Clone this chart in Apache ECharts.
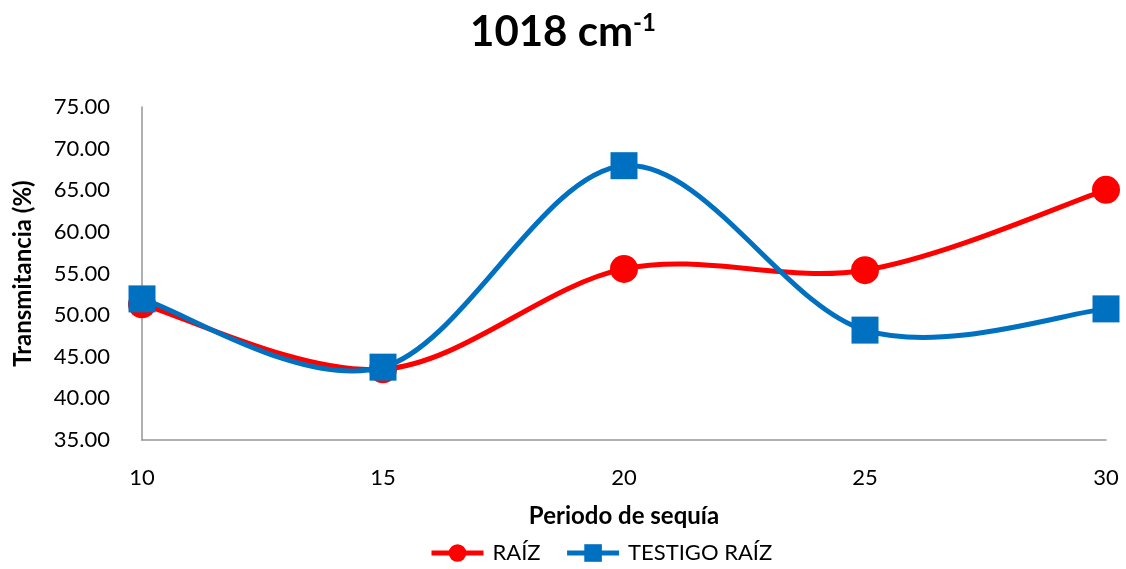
<!DOCTYPE html>
<html><head><meta charset="utf-8">
<script src="https://cdn.jsdelivr.net/npm/echarts@6/dist/echarts.min.js"></script>
<style>html,body{margin:0;padding:0;background:#fff}#c{width:1126px;height:569px}</style>
</head><body><div id="c"></div>
<script>
const periods = [10, 15, 20, 25, 30];
const raiz = [51.3, 43.5, 55.55, 55.4, 65.05];
const testigoRaiz = [51.95, 43.75, 67.95, 48.2, 50.75];
const seriesNames = ['RAÍZ', 'TESTIGO RAÍZ'];
const colors = ['#ff0000', '#0070c0'];
const font = 'Lato, "Open Sans", sans-serif';

// Smooth curve (Catmull-Rom style, like a spreadsheet "smoothed line"), through the axis scales
function curveSeries(values, color, z) {
  return {
    type: 'custom', name: 'curve-' + color, z: z, silent: true,
    data: periods.map((p, i) => [p, values[i]]),
    renderItem: function (params, api) {
      if (params.dataIndex !== 0) return null;
      const pts = periods.map((p, i) => api.coord([p, values[i]]));
      const n = pts.length;
      let d = 'M' + pts[0][0] + ' ' + pts[0][1];
      for (let i = 0; i < n - 1; i++) {
        const p0 = pts[Math.max(i - 1, 0)], p1 = pts[i], p2 = pts[i + 1], p3 = pts[Math.min(i + 2, n - 1)];
        const c1x = p1[0] + (p2[0] - p0[0]) / 6, c1y = p1[1] + (p2[1] - p0[1]) / 6;
        const c2x = p2[0] - (p3[0] - p1[0]) / 6, c2y = p2[1] - (p3[1] - p1[1]) / 6;
        d += ' C' + c1x + ' ' + c1y + ' ' + c2x + ' ' + c2y + ' ' + p2[0] + ' ' + p2[1];
      }
      return {type: 'path', shape: {pathData: d}, style: {fill: 'none', stroke: color, lineWidth: 5, lineCap: 'round', lineJoin: 'round'}};
    }
  };
}

const chart = echarts.init(document.getElementById('c'));
chart.setOption({
  animation: false,
  title: {
    text: '{b|1018 cm}{s|-1}',
    left: 'center', top: 6,
    textStyle: {
      rich: {
        b: {fontFamily: font, fontWeight: 'bold', fontSize: 42, color: '#000', verticalAlign: 'bottom'},
        s: {fontFamily: font, fontWeight: 'bold', fontSize: 24, color: '#000', verticalAlign: 'top', padding: [0,0,16,0]}
      }
    }
  },
  legend: {
    bottom: 0, left: 424,
    itemWidth: 52, itemHeight: 22, itemGap: 24,
    textStyle: {fontFamily: font, fontSize: 22, color: '#000', padding: [0, 0, 0, 4]},
    data: seriesNames.map((n, i) => ({name: n, lineStyle: {color: colors[i], width: 5, opacity: 1}}))
  },
  grid: {left: 142, right: 20, top: 107, bottom: 129},
  xAxis: {
    type: 'value', min: 10, max: 30, interval: 5,
    name: 'Periodo de sequía', nameLocation: 'middle', nameGap: 64,
    nameTextStyle: {fontFamily: font, fontWeight: 'bold', fontSize: 24, color: '#000'},
    axisLine: {lineStyle: {color: '#969696', width: 1.5}},
    axisTick: {show: false},
    splitLine: {show: false},
    axisLabel: {fontFamily: font, fontSize: 22, color: '#000', margin: 27}
  },
  yAxis: {
    type: 'value', min: 35, max: 75, interval: 5,
    name: 'Transmitancia (%)', nameLocation: 'middle', nameGap: 107,
    nameTextStyle: {fontFamily: font, fontWeight: 'bold', fontSize: 24, color: '#000'},
    axisLine: {show: true, lineStyle: {color: '#969696', width: 1.5}},
    axisTick: {show: false},
    splitLine: {show: false},
    axisLabel: {fontFamily: font, fontSize: 22, color: '#000', margin: 32, formatter: v => v.toFixed(2)}
  },
  series: [
    curveSeries(raiz, colors[0], 2),
    {
      name: seriesNames[0], type: 'line', z: 3,
      data: periods.map((p, i) => [p, raiz[i]]),
      symbol: 'circle', symbolSize: 28,
      lineStyle: {color: colors[0], width: 0, opacity: 0},
      itemStyle: {color: colors[0]}
    },
    curveSeries(testigoRaiz, colors[1], 4),
    {
      name: seriesNames[1], type: 'line', z: 5,
      data: periods.map((p, i) => [p, testigoRaiz[i]]),
      symbol: 'rect', symbolSize: 27,
      lineStyle: {color: colors[1], width: 0, opacity: 0},
      itemStyle: {color: colors[1]}
    }
  ]
});
</script></body></html>
